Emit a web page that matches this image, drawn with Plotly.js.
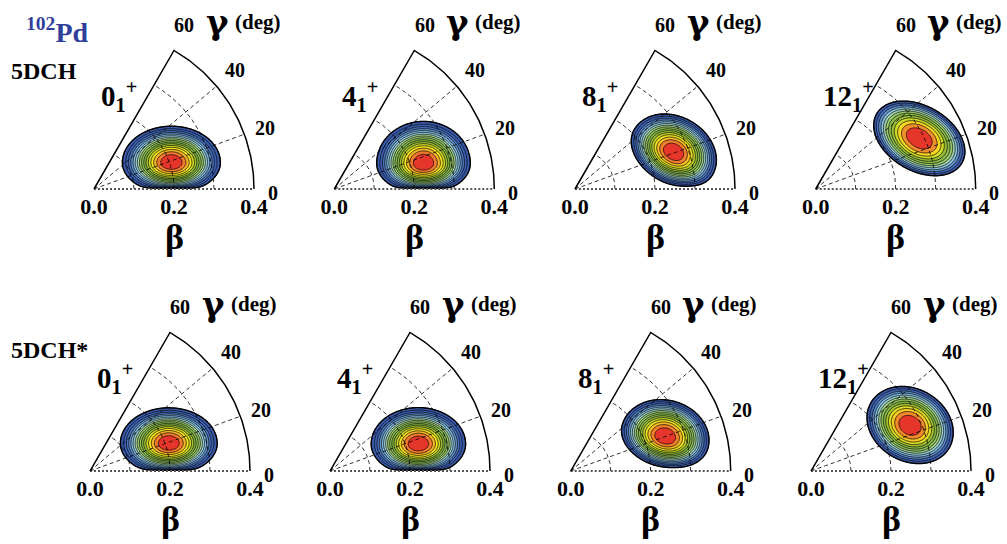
<!DOCTYPE html>
<html><head><meta charset="utf-8">
<script src="https://cdn.plot.ly/plotly-3.0.1.min.js"></script>
<style>html,body{margin:0;padding:0;background:#fff}</style>
</head><body>
<div id="plot" style="width:1007px;height:544px"></div>
<script>
// ---------------- data ----------------
const nucleus = 'Pd';
const massNumber = '102';
const rowLabels = ['5DCH', '5DCH*'];
const stateSpins = ['0', '4', '8', '12', '0', '4', '8', '12'];
const betaTicks = [0, 0.2, 0.4];
const betaTickText = ['0.0', '0.2', '0.4'];
const gammaTicks = [0, 20, 40, 60];
const gammaGrid = [20, 40];
const betaGrid = [0.1, 0.2, 0.3];
const betaMax = 0.4;
const gammaMax = 60;
// distribution (one entry per panel, row 1 then row 2)
const blobX     = [0.1935, 0.223, 0.246, 0.259, 0.197, 0.221, 0.236, 0.2475];
const blobY     = [0.066, 0.064, 0.092, 0.1265, 0.069, 0.0675, 0.086, 0.114];
const blobA     = [0.1225, 0.117, 0.113, 0.123, 0.121, 0.118, 0.111, 0.113];
const blobBup   = [0.091, 0.105, 0.089, 0.081, 0.089, 0.091, 0.091, 0.0916];
const blobBdown = [0.077, 0.076, 0.078, 0.081, 0.078, 0.079, 0.0763, 0.089];
const blobTilt  = [0, 0, -30, -30, 0, 0, -15, -30];
const blobPower = [1.8, 1.8, 1.5, 1.2, 1.8, 1.8, 1.5, 1.4];
const blobEdge  = [0.006, 0.006, 0.012, 0.01, 0.006, 0.006, 0.01, 0.01];
const nLevels   = [16, 16, 15, 12, 16, 16, 15, 13];

// ---------------- layout helpers ----------------
const W = 1007, H = 544, PXU = 400;
const apexX = [[94, 334.3, 575, 815.7], [90, 330, 570.7, 811]];
const apexY = [189, 471];
const XR = [-0.06, 0.47], YR = [-0.006, 0.452];
const deg = Math.PI / 180;
const serif = 'Liberation Serif';
const LEVEL0 = 0.04;

const colorscale = [
  [0, 'rgba(255,255,255,0)'],
  [0.0625, '#3a5aab'], [0.125, '#3d60b0'], [0.1875, '#4a72bb'], [0.25, '#6595cc'],
  [0.3125, '#84bddf'], [0.375, '#9bd0dc'], [0.4375, '#a6d49a'], [0.5, '#9ccc6c'],
  [0.5625, '#8fc256'], [0.625, '#82b53e'], [0.6875, '#a4c232'], [0.75, '#d0da28'],
  [0.8125, '#f6e71e'], [0.875, '#f6b52a'], [0.9375, '#f07a2d'], [1, '#e6362b']
];

function field(i, x, y) {
  const r = Math.hypot(x, y);
  if (r > betaMax || Math.atan2(y, x) > gammaMax * deg || y <= 0) return 0;
  const th = blobTilt[i] * deg;
  const dx = x - blobX[i], dy = y - blobY[i];
  const u = dx * Math.cos(th) + dy * Math.sin(th);
  const v = -dx * Math.sin(th) + dy * Math.cos(th);
  const b = v >= 0 ? blobBup[i] : blobBdown[i];
  const rho2 = u * u / (blobA[i] * blobA[i]) + v * v / (b * b);
  const q = blobPower[i];
  // outermost contour (LEVEL0) falls on rho = 1; large q tends to a Gaussian
  const core = Math.pow(Math.max(0, 1 - rho2 * (1 - Math.pow(LEVEL0, 1 / q))), q);
  return core * Math.tanh(y / blobEdge[i]);
}

const gx = [], gy = [];
for (let k = 0; k <= 200; k++) gx.push(k * 0.002);
for (let k = 0; k <= 175; k++) gy.push(k * 0.002);

const traces = [];
const annotations = [];
const layout = {
  width: W, height: H,
  margin: {l: 0, r: 0, t: 0, b: 0},
  paper_bgcolor: '#fff', plot_bgcolor: 'rgba(0,0,0,0)',
  showlegend: false,
  annotations: annotations
};

function bfont(size, color, family) {
  return {family: family || serif, size: size, color: color || '#000', weight: 'bold'};
}

for (let i = 0; i < 8; i++) {
  const row = Math.floor(i / 4), col = i % 4;
  const ax = apexX[row][col], ay = apexY[row];
  const sfx = i === 0 ? '' : String(i + 1);
  const xa = 'x' + sfx, ya = 'y' + sfx;

  layout['xaxis' + sfx] = {
    domain: [(ax + XR[0] * PXU) / W, (ax + XR[1] * PXU) / W],
    range: XR, fixedrange: true,
    showgrid: false, zeroline: false, showline: false, ticks: '',
    tickmode: 'array', tickvals: betaTicks, ticktext: betaTickText,
    tickfont: bfont(22), anchor: ya
  };
  layout['yaxis' + sfx] = {
    domain: [(H - (ay - YR[0] * PXU)) / H, (H - (ay - YR[1] * PXU)) / H],
    range: YR, fixedrange: true, visible: false, anchor: xa
  };

  // contour field
  const Z = gy.map(y => gx.map(x => field(i, x, y)));
  const size = 0.95 / nLevels[i];
  traces.push({
    type: 'contour', x: gx, y: gy, z: Z, xaxis: xa, yaxis: ya,
    autocontour: false,
    contours: {coloring: 'fill', start: LEVEL0, end: LEVEL0 + (nLevels[i] - 1) * size, size: size, showlines: true},
    line: {color: '#000', width: 0.7, smoothing: 1},
    colorscale: colorscale, showscale: false, hoverinfo: 'skip'
  });
  // heavier outermost contour
  traces.push({
    type: 'contour', x: gx, y: gy, z: Z, xaxis: xa, yaxis: ya,
    autocontour: false,
    contours: {coloring: 'none', start: LEVEL0, end: LEVEL0, size: 1, showlines: true},
    line: {color: '#000', width: 1.4, smoothing: 1},
    showscale: false, hoverinfo: 'skip'
  });

  // dashed grid
  const gxs = [], gys = [];
  gammaGrid.forEach(g => { gxs.push(0, betaMax * Math.cos(g * deg), null); gys.push(0, betaMax * Math.sin(g * deg), null); });
  betaGrid.forEach(bb => {
    for (let a = 0; a <= gammaMax; a += 1) { gxs.push(bb * Math.cos(a * deg)); gys.push(bb * Math.sin(a * deg)); }
    gxs.push(null); gys.push(null);
  });
  traces.push({type: 'scatter', mode: 'lines', x: gxs, y: gys, xaxis: xa, yaxis: ya,
    line: {color: '#000', width: 0.8, dash: '4px,3px'}, hoverinfo: 'skip', cliponaxis: false});

  // bottom edge (gamma = 0)
  traces.push({type: 'scatter', mode: 'lines', x: [0, betaMax], y: [0, 0], xaxis: xa, yaxis: ya,
    line: {color: '#555', width: 2, dash: '2px,2px'}, hoverinfo: 'skip', cliponaxis: false});

  // solid frame: outer arc + 60 deg edge
  const fxs = [], fys = [];
  for (let a = 0; a <= gammaMax; a += 1) { fxs.push(betaMax * Math.cos(a * deg)); fys.push(betaMax * Math.sin(a * deg)); }
  fxs.push(0); fys.push(0);
  traces.push({type: 'scatter', mode: 'lines', x: fxs, y: fys, xaxis: xa, yaxis: ya,
    line: {color: '#000', width: 1.5}, hoverinfo: 'skip', cliponaxis: false});

  // gamma tick labels: anchored on the arc, pushed outward
  gammaTicks.forEach(g => {
    const rl = 0.447 + 0.00035 * g, al = (1.04 * g - 1.3) * deg;
    const x0 = betaMax * Math.cos(g * deg), y0 = betaMax * Math.sin(g * deg);
    annotations.push({xref: xa, yref: ya, x: x0, y: y0,
      xshift: (rl * Math.cos(al) - x0) * PXU, yshift: (rl * Math.sin(al) - y0) * PXU,
      text: String(g), showarrow: false, xanchor: 'center', yanchor: 'middle', font: bfont(20)});
  });
  // gamma axis title
  annotations.push({xref: xa, yref: ya, x: 0.3075, y: 0.418, text: 'γ', showarrow: false,
    xanchor: 'center', yanchor: 'middle', font: bfont(34, '#000', 'DejaVu Serif')});
  annotations.push({xref: xa, yref: ya, x: 0.409, y: 0.418, text: '(deg)', showarrow: false,
    xanchor: 'center', yanchor: 'middle', font: bfont(21)});
  // beta axis title (below the axis, in paper coordinates)
  annotations.push({xref: 'paper', yref: 'paper', x: (ax + 0.2 * PXU) / W, y: 1 - (ay + 48) / H,
    text: 'β', showarrow: false, xanchor: 'center', yanchor: 'middle', font: bfont(36)});
  // state label
  annotations.push({xref: xa, yref: ya, x: 0.013, y: 0.2325,
    text: stateSpins[i] + '<sub>1</sub><sup>+</sup>', showarrow: false,
    xanchor: 'left', yanchor: 'middle', font: bfont(29)});
}

// row labels
annotations.push({xref: 'paper', yref: 'paper', x: 9 / W, y: 1 - 70.5 / H, text: rowLabels[0],
  showarrow: false, xanchor: 'left', yanchor: 'middle', font: bfont(24)});
annotations.push({xref: 'paper', yref: 'paper', x: 9 / W, y: 1 - 349.5 / H, text: rowLabels[1],
  showarrow: false, xanchor: 'left', yanchor: 'middle', font: bfont(24)});
// nucleus
annotations.push({xref: 'paper', yref: 'paper', x: 24 / W, y: 1 - 30 / H,
  text: '<sup>' + massNumber + '</sup>' + nucleus,
  showarrow: false, xanchor: 'left', yanchor: 'middle', font: bfont(28, '#2f3f9a')});

Plotly.newPlot('plot', traces, layout, {staticPlot: true, displayModeBar: false});
</script>
</body></html>
